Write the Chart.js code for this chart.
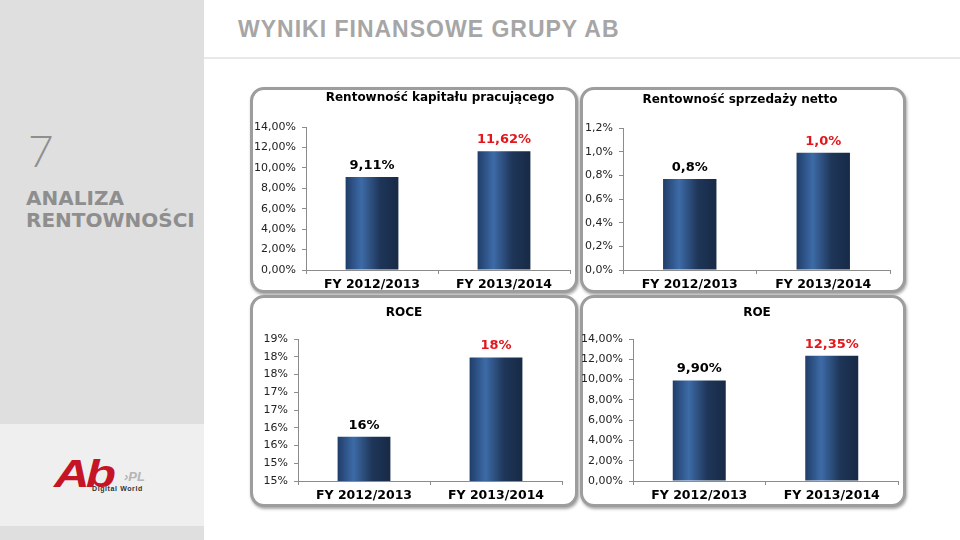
<!DOCTYPE html>
<html>
<head>
<meta charset="utf-8">
<script src="https://cdn.jsdelivr.net/npm/chart.js@4.4.1/dist/chart.umd.min.js"></script>
<style>
  body { margin: 0; width: 960px; height: 540px; position: relative; overflow: hidden; background: #fff; font-family: "DejaVu Sans", sans-serif; }
  .side { position: absolute; left: 0; top: 0; width: 204px; height: 540px; background: #dfdfdf; }
  .band { position: absolute; left: 0; top: 424px; width: 204px; height: 102px; background: #efefef; }
  .num { position: absolute; left: 28px; top: 124px; font: 300 44px Lato, sans-serif; color: #8e8e8e; }
  .sect { position: absolute; left: 26px; top: 187px; font: bold 20px "DejaVu Sans", sans-serif; color: #8e8e8e; line-height: 22px; }
  .head { position: absolute; left: 238px; top: 16px; font: bold 23px "Liberation Sans", sans-serif; color: #a6a6a6; letter-spacing: 1px; }
  .rule { position: absolute; left: 204px; top: 57px; width: 756px; height: 2px; background: #e8e8e8; }
  .panel { position: absolute; box-sizing: border-box; border: 3px solid #9d9d9d; border-radius: 14px; background: #fff; box-shadow: 1px 2px 3px rgba(0,0,0,0.35); }
  canvas { position: absolute; }
  .logo { position: absolute; left: 54px; top: 455px; width: 100px; height: 45px; }
  .logo .ab { position: absolute; left: 0; top: 0; font: italic bold 38px "Liberation Sans", sans-serif; color: #c41426; letter-spacing: -3px; transform: scaleX(1.3); transform-origin: 0 0; line-height: 38px; }
  .logo .pl { position: absolute; left: 70px; top: 14px; font: italic bold 13px "Liberation Sans", sans-serif; color: #b5b5b5; }
  .logo .dw { position: absolute; left: 38px; top: 30px; font: bold 7px "Liberation Sans", sans-serif; color: #333; letter-spacing: 0.6px; }
</style>
</head>
<body>
<div class="side"></div>
<div class="band"></div>
<div class="num">7</div>
<div class="sect">ANALIZA<br>RENTOWNOŚCI</div>
<div class="logo"><span class="ab">Ab</span><span class="pl">›PL</span><span class="dw">Digital World</span></div>
<div class="head">WYNIKI FINANSOWE GRUPY AB</div>
<div class="rule"></div>

<div class="panel" style="left:250px;top:87px;width:328px;height:206px"></div>
<div class="panel" style="left:580px;top:87px;width:326px;height:206px"></div>
<div class="panel" style="left:250px;top:295px;width:328px;height:212px"></div>
<div class="panel" style="left:580px;top:295px;width:326px;height:212px"></div>

<canvas id="c1" style="left:250px;top:87px" width="328" height="206"></canvas>
<canvas id="c2" style="left:580px;top:87px" width="326" height="206"></canvas>
<canvas id="c3" style="left:250px;top:295px" width="328" height="212"></canvas>
<canvas id="c4" style="left:580px;top:295px" width="326" height="212"></canvas>

<script>
var categories = ['FY 2012/2013', 'FY 2013/2014'];

var rkpValues = [9.11, 11.62];
var rkpTicks = ['0,00%', '2,00%', '4,00%', '6,00%', '8,00%', '10,00%', '12,00%', '14,00%'];

var rsnValues = [0.77, 0.99];
var rsnTicks = ['0,0%', '0,2%', '0,4%', '0,6%', '0,8%', '1,0%', '1,2%'];

var roceValues = [16.25, 18.48];
var roceTicks = ['15%', '15%', '16%', '16%', '17%', '17%', '18%', '18%', '19%'];

var roeValues = [9.90, 12.35];
var roeTicks = ['0,00%', '2,00%', '4,00%', '6,00%', '8,00%', '10,00%', '12,00%', '14,00%'];

var labelColors = ['#000000', '#e3161c'];

function barFill(c) {
    var ch = c.chart;
    var xs = ch.scales.x;
    if (!ch.chartArea || !xs || c.dataIndex === undefined) return '#2b4d7e';
    var cx = xs.getPixelForValue(c.dataIndex);
    var w = xs.width / categories.length * 0.4;
    var g = ch.ctx.createLinearGradient(cx - w / 2, 0, cx + w / 2, 0);
    g.addColorStop(0, '#203d69');
    g.addColorStop(0.3, '#3d6ba7');
    g.addColorStop(0.65, '#1f3659');
    g.addColorStop(1, '#172a46');
    return g;
}

function makeChart(id, o) {
    var ctx = document.getElementById(id).getContext('2d');
    return new Chart(ctx, {
        type: 'bar',
        data: {
            labels: categories,
            datasets: [{
                data: o.values,
                backgroundColor: barFill,
                borderWidth: 0,
                categoryPercentage: 1,
                barPercentage: 0.4
            }]
        },
        options: {
            responsive: false,
            animation: false,
            layout: { padding: { top: o.top, right: o.right, left: 0, bottom: 0 } },
            scales: {
                x: {
                    afterFit: function (s) { s.height = o.xh; },
                    grid: { drawOnChartArea: false, tickLength: 4, color: '#8c8c8c' },
                    border: { color: '#8c8c8c' },
                    ticks: { color: '#000', padding: 3, font: { family: 'DejaVu Sans', weight: 'bold', size: 12.5 } }
                },
                y: {
                    min: o.min, max: o.max,
                    afterFit: function (s) { s.width = o.yw; },
                    grid: { drawOnChartArea: false, tickLength: 4, color: '#8c8c8c' },
                    border: { color: '#8c8c8c' },
                    ticks: {
                        stepSize: o.step, padding: 6, color: '#222',
                        font: { family: 'DejaVu Sans', size: 11 },
                        callback: function (v, i) { return o.ticks[i]; }
                    }
                }
            },
            plugins: { legend: { display: false }, tooltip: { enabled: false } }
        },
        plugins: [{
            id: 'extras',
            afterDraw: function (chart) {
                var c = chart.ctx;
                c.save();
                c.textAlign = 'center';
                c.textBaseline = 'middle';
                c.fillStyle = '#000';
                c.font = 'bold 12px "DejaVu Sans"';
                c.fillText(o.title, o.tx, o.ty);
                c.textBaseline = 'bottom';
                c.font = 'bold 13px "DejaVu Sans"';
                chart.getDatasetMeta(0).data.forEach(function (bar, i) {
                    c.fillStyle = labelColors[i];
                    var txt = o.values[i].toFixed(o.dec).replace('.', ',') + '%';
                    c.fillText(txt, bar.x, bar.y - 5);
                });
                c.restore();
            }
        }]
    });
}

makeChart('c1', { values: rkpValues, ticks: rkpTicks, min: 0, max: 14, step: 2, dec: 2,
    title: 'Rentowność kapitału pracującego', tx: 190, ty: 11, top: 40, right: 8, yw: 56, xh: 23 });
makeChart('c2', { values: rsnValues, ticks: rsnTicks, min: 0, max: 1.2, step: 0.2, dec: 1,
    title: 'Rentowność sprzedaży netto', tx: 160, ty: 13, top: 41, right: 16, yw: 43, xh: 23 });
makeChart('c3', { values: roceValues, ticks: roceTicks, min: 15, max: 19, step: 0.5, dec: 0,
    title: 'ROCE', tx: 154, ty: 18, top: 44, right: 16, yw: 48, xh: 26 });
makeChart('c4', { values: roeValues, ticks: roeTicks, min: 0, max: 14, step: 2, dec: 2,
    title: 'ROE', tx: 177, ty: 18, top: 44, right: 8, yw: 53, xh: 26 });
</script>
</body>
</html>
